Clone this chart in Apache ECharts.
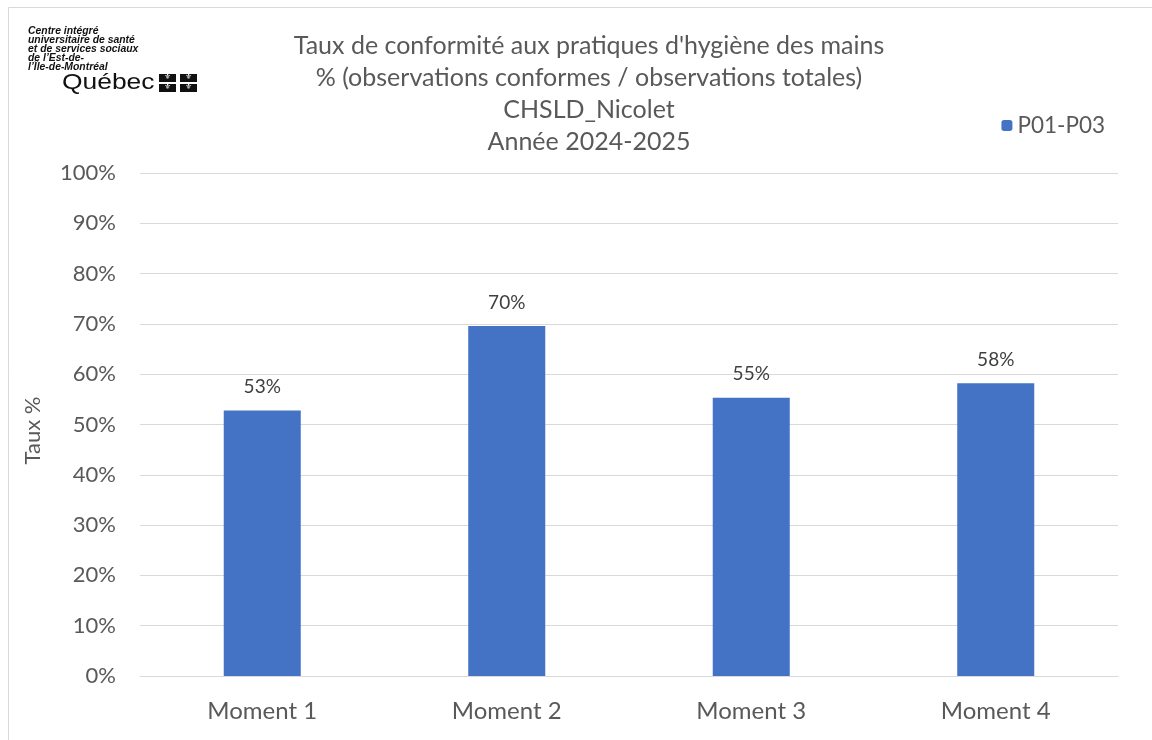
<!DOCTYPE html>
<html>
<head>
<meta charset="utf-8">
<script src="https://cdn.jsdelivr.net/npm/echarts@6/dist/echarts.min.js"></script>
<style>
  html, body { margin: 0; padding: 0; background: #fff; }
  #chart { width: 1152px; height: 740px; }
</style>
</head>
<body>
<div id="chart"></div>
<script>
const categories = ["Moment 1", "Moment 2", "Moment 3", "Moment 4"];
const rates = [52.8, 69.6, 55.3, 58.2];
const seriesName = "P01-P03";
const titleLines = [
  "Taux de conformité aux pratiques d'hygiène des mains",
  "% (observations conformes / observations totales)",
  "CHSLD_Nicolet",
  "Année 2024-2025"
];
const logoLines = [
  "Centre intégré",
  "universitaire de santé",
  "et de services sociaux",
  "de l’Est-de-",
  "l’Île-de-Montréal"
];

const font = "Lato, 'Open Sans', sans-serif";
const chart = echarts.init(document.getElementById("chart"));

// petit drapeau du Québec, 4 carrés noirs
const flag = [];
[[159, 74], [180, 74], [159, 84], [180, 84]].forEach(p => {
  flag.push({type: "rect", left: p[0], top: p[1], shape: {width: 17, height: 8}, style: {fill: "#111"}});
  flag.push({type: "text", left: p[0] + 5, top: p[1] - 1, style: {text: "⚜", fill: "#fff", font: "8px 'DejaVu Sans'"}});
});

const option = {
  animation: false,
  title: {
    text: titleLines.join("\n"),
    left: 584,
    textAlign: "center",
    top: 25,
    textStyle: {fontFamily: font, fontSize: 25, fontWeight: "normal", color: "#595959", lineHeight: 32}
  },
  legend: {
    data: [seriesName],
    right: 42,
    top: 109,
    itemWidth: 11,
    itemHeight: 11,
    itemGap: 8,
    textStyle: {fontFamily: font, fontSize: 22.5, color: "#595959"}
  },
  grid: {left: 140, right: 34, top: 173, bottom: 64, containLabel: false},
  xAxis: {
    type: "category",
    data: categories,
    axisLine: {lineStyle: {color: "#d9d9d9", width: 1}},
    axisTick: {show: false},
    axisLabel: {fontFamily: font, fontSize: 24, color: "#595959", margin: 23}
  },
  yAxis: {
    type: "value",
    min: 0,
    max: 100,
    interval: 10,
    name: "Taux %",
    nameLocation: "middle",
    nameGap: 96,
    nameRotate: 90,
    nameTextStyle: {fontFamily: font, fontSize: 22, color: "#595959", padding: [0, 0, 0, -12]},
    axisLabel: {formatter: "{value}%", fontFamily: font, fontSize: 22, color: "#595959", margin: 24},
    splitLine: {lineStyle: {color: "#d9d9d9", width: 1}},
    axisLine: {show: false},
    axisTick: {show: false}
  },
  series: [{
    name: seriesName,
    type: "bar",
    data: rates,
    barWidth: "31.5%",
    itemStyle: {color: "#4472c4"},
    label: {
      show: true,
      position: "top",
      distance: 14,
      formatter: p => Math.round(p.value) + "%",
      fontFamily: font,
      fontSize: 19,
      color: "#404040"
    }
  }],
  graphic: [
    {type: "rect", left: 6, top: 5, shape: {width: 1160, height: 760}, style: {fill: "none", stroke: "#d9d9d9", lineWidth: 1}, silent: true},
    {
      type: "text",
      left: 28,
      top: 26,
      style: {
        text: logoLines.join("\n"),
        font: "italic bold 10.4px 'Liberation Sans', Arial, sans-serif",
        lineHeight: 9,
        fill: "#111"
      }
    },
    {type: "text", x: 62, y: 72, scaleX: 1.2, style: {text: "Québec", font: "22px 'Liberation Sans', Arial, sans-serif", fill: "#111"}},
    ...flag
  ]
};
chart.setOption(option);
</script>
</body>
</html>
